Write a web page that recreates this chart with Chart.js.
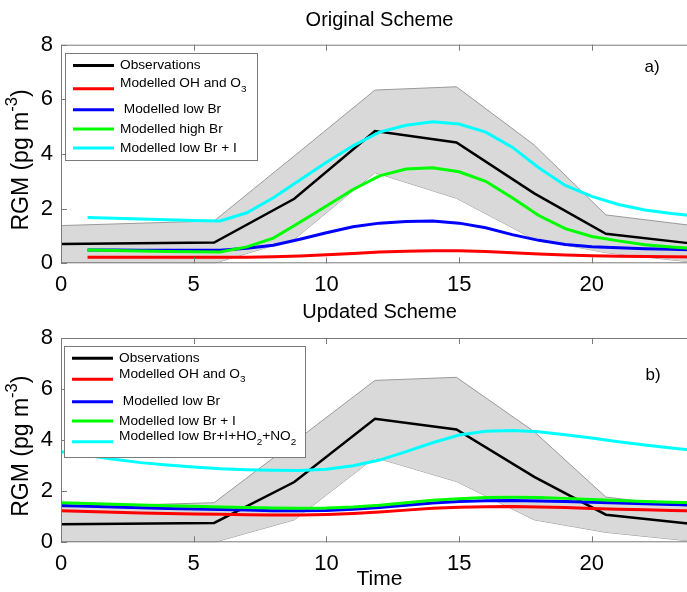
<!DOCTYPE html>
<html>
<head>
<meta charset="utf-8">
<script src="https://cdn.jsdelivr.net/npm/chart.js@4.4.1/dist/chart.umd.min.js"></script>
<style>
  html, body { margin: 0; padding: 0; background: #fff; overflow: hidden; }
  .panel { position: absolute; left: 0; width: 700px; height: 296px; }
  #panelA { top: 0; }
  #panelB { top: 296px; }
</style>
</head>
<body>
<div class="panel" id="panelA"><canvas id="chartA" width="700" height="296"></canvas></div>
<div class="panel" id="panelB"><canvas id="chartB" width="700" height="296"></canvas></div>
<script>
// ---- data ----
const obsTime  = [0, 5.77, 8.79, 11.83, 14.9, 17.83, 20.53, 23.8];
const obsMean  = [0.71, 0.76, 2.36, 4.84, 4.42, 2.56, 1.08, 0.72];
const obsUpper = [1.38, 1.55, 3.93, 6.34, 6.46, 4.33, 1.77, 1.38];
const obsLower = [0.04, 0.0, 0.88, 3.32, 2.38, 0.88, 0.39, 0.04];

// panel a: model hours 1..24
const hoursA = [1, 2, 3, 4, 5, 6, 7, 8, 9, 10, 11, 12, 13, 14, 15, 16, 17, 18, 19, 20, 21, 22, 23, 24];
const ohO3A     = [0.22, 0.22, 0.22, 0.22, 0.22, 0.22, 0.22, 0.24, 0.27, 0.31, 0.36, 0.41, 0.44, 0.46, 0.46, 0.43, 0.39, 0.34, 0.30, 0.28, 0.26, 0.25, 0.24, 0.23];
const lowBrA    = [0.49, 0.49, 0.48, 0.48, 0.48, 0.48, 0.55, 0.66, 0.88, 1.12, 1.34, 1.47, 1.53, 1.55, 1.47, 1.30, 1.05, 0.84, 0.69, 0.61, 0.57, 0.53, 0.51, 0.49];
const highBrA   = [0.49, 0.47, 0.45, 0.43, 0.42, 0.41, 0.60, 0.92, 1.50, 2.10, 2.70, 3.20, 3.45, 3.50, 3.35, 3.00, 2.40, 1.75, 1.27, 0.98, 0.82, 0.68, 0.60, 0.53];
const lowBrIA   = [1.68, 1.65, 1.62, 1.59, 1.57, 1.55, 1.85, 2.40, 3.05, 3.70, 4.30, 4.80, 5.05, 5.18, 5.10, 4.80, 4.25, 3.50, 2.85, 2.45, 2.15, 1.95, 1.82, 1.72];

// panel b: model hours 0..24
const hoursB = [0, 1, 2, 3, 4, 5, 6, 7, 8, 9, 10, 11, 12, 13, 14, 15, 16, 17, 18, 19, 20, 21, 22, 23, 24];
const ohO3B     = [1.24, 1.21, 1.18, 1.15, 1.13, 1.11, 1.10, 1.08, 1.07, 1.07, 1.09, 1.13, 1.19, 1.26, 1.33, 1.37, 1.39, 1.40, 1.38, 1.36, 1.32, 1.29, 1.27, 1.25, 1.23];
const lowBrB    = [1.44, 1.41, 1.38, 1.35, 1.32, 1.30, 1.28, 1.26, 1.24, 1.24, 1.25, 1.29, 1.36, 1.45, 1.54, 1.60, 1.63, 1.64, 1.62, 1.60, 1.57, 1.54, 1.51, 1.48, 1.46];
const lowBrIB   = [1.55, 1.52, 1.49, 1.46, 1.43, 1.41, 1.38, 1.36, 1.34, 1.33, 1.34, 1.38, 1.45, 1.55, 1.65, 1.71, 1.75, 1.76, 1.75, 1.72, 1.68, 1.64, 1.60, 1.57, 1.55];
const fullB     = [3.55, 3.40, 3.25, 3.12, 3.03, 2.95, 2.88, 2.84, 2.82, 2.81, 2.86, 3.00, 3.22, 3.55, 3.90, 4.20, 4.35, 4.38, 4.33, 4.21, 4.08, 3.94, 3.81, 3.69, 3.58];

const xTicks = [0, 5, 10, 15, 20];
const yTicks = [0, 2, 4, 6, 8];

const FONT = "'Liberation Sans', Arial, Helvetica, sans-serif";
const AXIS_COLOR = '#7a7a7a';

function pts(xs, ys) { return xs.map((x, i) => ({ x: x, y: ys[i] })); }

function line(label, xs, ys, color, width, order) {
  return { label: label, data: pts(xs, ys), borderColor: color, backgroundColor: color,
           borderWidth: width, pointRadius: 0, tension: 0, fill: false, order: order };
}

function bandSets() {
  return [
    { label: 'range low', inLegend: false, data: pts(obsTime, obsLower), borderColor: '#9a9a9a',
      borderWidth: 1, pointRadius: 0, fill: false, order: 20 },
    { label: 'range high', inLegend: false, data: pts(obsTime, obsUpper), borderColor: '#9a9a9a',
      backgroundColor: '#d9d9d9', borderWidth: 1, pointRadius: 0, fill: '-1', order: 19 }
  ];
}

// text with _x / _{..} subscripts and ^{..} superscripts
function richParts(text) {
  const parts = [];
  let i = 0, buf = '';
  while (i < text.length) {
    const c = text[i];
    if (c === '_' || c === '^') {
      if (buf) { parts.push({ t: buf, k: 0 }); buf = ''; }
      let s;
      if (text[i + 1] === '{') { const e = text.indexOf('}', i); s = text.slice(i + 2, e); i = e + 1; }
      else { s = text[i + 1]; i += 2; }
      parts.push({ t: s, k: c === '_' ? 1 : -1 });
    } else { buf += c; i++; }
  }
  if (buf) parts.push({ t: buf, k: 0 });
  return parts;
}

function drawRich(ctx, text, x, y, size) {
  ctx.textBaseline = 'middle';
  ctx.textAlign = 'left';
  let cx = x;
  richParts(text).forEach(p => {
    const s = p.k === 0 ? size : size * 0.72;
    ctx.font = s + 'px ' + FONT;
    const dy = p.k === 1 ? size * 0.38 : (p.k === -1 ? -size * 0.42 : 0);
    ctx.fillText(p.t, cx, y + dy);
    cx += ctx.measureText(p.t).width;
  });
  return cx - x;
}

function richWidth(ctx, text, size) {
  let w = 0;
  richParts(text).forEach(p => {
    ctx.font = (p.k === 0 ? size : size * 0.72) + 'px ' + FONT;
    w += ctx.measureText(p.t).width;
  });
  return w;
}

// frame, inward ticks, y label, panel tag and boxed legend in MATLAB style
const matlabAxes = {
  id: 'matlabAxes',
  afterDraw(chart, args, opts) {
    const ctx = chart.ctx;
    const a = chart.chartArea;
    const xs = chart.scales.x, ys = chart.scales.y;
    ctx.save();
    ctx.strokeStyle = AXIS_COLOR;
    ctx.lineWidth = 1;
    ctx.strokeRect(a.left + 0.5, a.top + 0.5, a.right - a.left - 1, a.bottom - a.top - 1);
    ctx.beginPath();
    xTicks.forEach(v => {
      const px = Math.round(xs.getPixelForValue(v)) + 0.5;
      ctx.moveTo(px, a.bottom); ctx.lineTo(px, a.bottom - 6);
      ctx.moveTo(px, a.top); ctx.lineTo(px, a.top + 6);
    });
    yTicks.forEach(v => {
      const py = Math.round(ys.getPixelForValue(v)) + 0.5;
      ctx.moveTo(a.left, py); ctx.lineTo(a.left + 6, py);
    });
    ctx.stroke();

    // y label, rotated
    ctx.fillStyle = '#000';
    ctx.translate(opts.yLabelX, (a.top + a.bottom) / 2 + 6);
    ctx.rotate(-Math.PI / 2);
    const w = richWidth(ctx, opts.yLabel, 23);
    drawRich(ctx, opts.yLabel, -w / 2, 0, 23);
    ctx.setTransform(1, 0, 0, 1, 0, 0);

    // panel tag
    ctx.font = '17px ' + FONT;
    ctx.textAlign = 'center';
    ctx.textBaseline = 'middle';
    ctx.fillText(opts.tag, opts.tagX, opts.tagY);

    // legend
    const L = opts.legend;
    ctx.fillStyle = '#fff';
    ctx.fillRect(L.x, L.y, L.w, L.h);
    ctx.strokeStyle = AXIS_COLOR;
    ctx.strokeRect(L.x + 0.5, L.y + 0.5, L.w, L.h);
    const items = chart.data.datasets.filter(d => d.inLegend !== false);
    items.forEach((d, i) => {
      const ly = L.y + L.rows[i];
      ctx.strokeStyle = d.borderColor;
      ctx.lineWidth = 3;
      ctx.beginPath();
      ctx.moveTo(L.x + 8, ly); ctx.lineTo(L.x + 49, ly);
      ctx.stroke();
      ctx.fillStyle = '#000';
      const ty = d.label.indexOf('_') >= 0 ? ly - 5 : ly;
      drawRich(ctx, d.label, L.x + 55, ty, 13.7);
    });
    ctx.restore();
  }
};

function makeChart(id, datasets, cfg) {
  return new Chart(document.getElementById(id), {
    type: 'line',
    data: { datasets: datasets },
    plugins: [matlabAxes],
    options: {
      responsive: false,
      animation: false,
      events: [],
      layout: { padding: { left: 0, right: 2, top: 0, bottom: 0 } },
      plugins: {
        legend: { display: false },
        tooltip: { enabled: false },
        title: { display: true, text: cfg.title, color: '#000', fullSize: false,
                 font: { family: FONT, size: 20, weight: 'normal' },
                 padding: { top: cfg.titleTop, bottom: cfg.titleBottom } },
        matlabAxes: cfg.axes
      },
      scales: {
        x: {
          type: 'linear', min: 0, max: 24,
          afterBuildTicks: s => { s.ticks = xTicks.map(v => ({ value: v })); },
          afterFit: s => { s.height = cfg.xHeight; },
          grid: { display: false, drawTicks: false }, border: { display: false },
          ticks: { color: '#000', padding: 8, maxRotation: 0, font: { family: FONT, size: 22 } },
          title: { display: !!cfg.xTitle, text: cfg.xTitle || '', color: '#000',
                   font: { family: FONT, size: 21 }, padding: { top: 0, bottom: 0 } }
        },
        y: {
          min: 0, max: 8,
          afterBuildTicks: s => { s.ticks = yTicks.map(v => ({ value: v })); },
          afterFit: s => { s.width = 61; },
          grid: { display: false, drawTicks: false }, border: { display: false },
          ticks: { color: '#000', padding: 8, font: { family: FONT, size: 22 } }
        }
      }
    }
  });
}

makeChart('chartA', bandSets().concat([
  line('Observations', obsTime, obsMean, '#000000', 2.5, 6),
  line('Modelled OH and O_3', hoursA, ohO3A, '#ff0000', 3, 5),
  line(' Modelled low Br', hoursA, lowBrA, '#0000ff', 3, 4),
  line('Modelled high Br', hoursA, highBrA, '#00ff00', 3, 3),
  line('Modelled low Br + I', hoursA, lowBrIA, '#00ffff', 3, 2)
]), {
  title: 'Original Scheme', titleTop: 8, titleBottom: 12.7, xHeight: 32.7,
  axes: { yLabel: 'RGM (pg m^{-3})', yLabelX: 22, tag: 'a)', tagX: 652, tagY: 67,
          legend: { x: 65, y: 53, w: 192, h: 107, rows: [12.4, 35.7, 56.7, 76, 95] } }
});

makeChart('chartB', bandSets().concat([
  line('Observations', obsTime, obsMean, '#000000', 2.5, 6),
  line('Modelled OH and O_3', hoursB, ohO3B, '#ff0000', 3, 5),
  line(' Modelled low Br', hoursB, lowBrB, '#0000ff', 3, 4),
  line('Modelled low Br + I', hoursB, lowBrIB, '#00ff00', 3, 3),
  line('Modelled low Br+I+HO_2+NO_2', hoursB, fullB, '#00ffff', 3, 2)
]), {
  title: 'Updated Scheme', titleTop: 4, titleBottom: 14, xHeight: 49.7, xTitle: 'Time',
  axes: { yLabel: 'RGM (pg m^{-3})', yLabelX: 22, tag: 'b)', tagX: 653, tagY: 79,
          legend: { x: 64, y: 50, w: 241, h: 111, rows: [12.3, 33.3, 55.7, 75, 95.7] } }
});
</script>
</body>
</html>
